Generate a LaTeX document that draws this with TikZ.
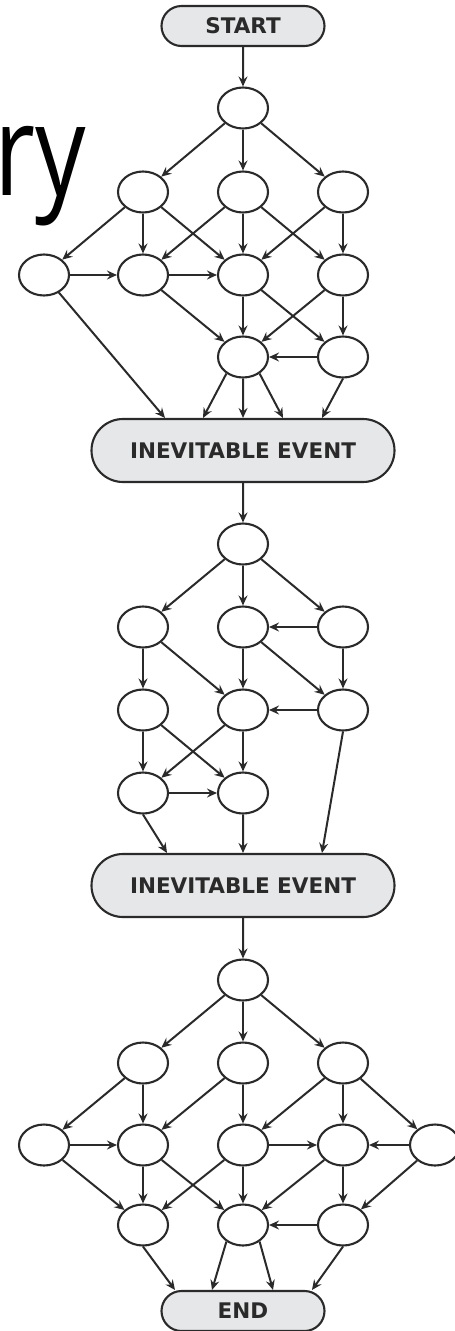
\documentclass[tikz,border=0pt]{standalone}
\usepackage{graphicx}
\usepackage{fontspec}
\setmainfont{DejaVu Sans}
\newfontfamily\headfont{Open Sans}
\usetikzlibrary{shapes.geometric, shapes.misc, arrows.meta}

\definecolor{ink}{HTML}{2A2A2A}
\definecolor{boxfill}{HTML}{E6E7E8}

\begin{document}
\begin{tikzpicture}[x=1pt, y=-1pt,
  state/.style={ellipse, draw=ink, line width=2.1pt, minimum width=50pt,
    minimum height=41pt, inner sep=0pt},
  event/.style={rounded rectangle, draw=ink, fill=boxfill, line width=2.1pt,
    font=\bfseries\fontsize{21.5}{21.5}\selectfont, text=ink, inner sep=0pt},
  flow/.style={draw=ink, line width=2pt,
    -{Stealth[length=10pt, width=9pt, inset=3.5pt]}}
]
\useasboundingbox (0,0) rectangle (455,1331);
\clip (0,0) rectangle (455,1331);

% heading fragment
\node[anchor=base west, inner sep=0pt, font=\headfont\fontsize{127}{127}\selectfont]
  (head) at (-6,195) {\scalebox{0.79}[1]{ry}};

% ---------- first stage ----------
\node[event, minimum width=163pt, minimum height=40pt] (S) at (243,26) {START};
\node[state] (a0) at (243,108) {};
\node[state] (a1) at (143,192) {};
\node[state] (a2) at (243,192) {};
\node[state] (a3) at (343,192) {};
\node[state] (b1) at (44,275) {};
\node[state] (b2) at (143,275) {};
\node[state] (b3) at (243,275) {};
\node[state] (b4) at (343,275) {};
\node[state] (c1) at (243,357) {};
\node[state] (c2) at (343,357) {};
\node[event, minimum width=303pt, minimum height=63pt] (E1) at (243,450.5) {INEVITABLE EVENT};

\draw[flow] (S) -- (a0);
\foreach \s/\t in {a0/a1, a0/a2, a0/a3,
                   a1/b1, a1/b2, a1/b3, a2/b2, a2/b3, a2/b4, a3/b3, a3/b4,
                   b1/b2, b2/b3, b2/c1, b3/c1, b3/c2, b4/c1, b4/c2, c2/c1}
  \draw[flow] (\s) -- (\t);
\draw[flow] (b1) -- ([xshift=-78pt]E1.north);
\draw[flow] (c1.225) -- ([xshift=-40pt]E1.north);
\draw[flow] (c1) -- (E1);
\draw[flow] (c1.-45) -- ([xshift=40pt]E1.north);
\draw[flow] (c2.south) -- ([xshift=79pt]E1.north);

% ---------- second stage ----------
\node[state] (d0) at (243,544) {};
\node[state] (d1) at (143,627) {};
\node[state] (d2) at (243,627) {};
\node[state] (d3) at (343,627) {};
\node[state] (e1) at (143,710) {};
\node[state] (e2) at (243,710) {};
\node[state] (e3) at (343,710) {};
\node[state] (f1) at (143,793) {};
\node[state] (f2) at (243,793) {};
\node[event, minimum width=303pt, minimum height=63pt] (E2) at (243,885.5) {INEVITABLE EVENT};

\draw[flow] (E1) -- (d0);
\foreach \s/\t in {d0/d1, d0/d2, d0/d3, d3/d2,
                   d1/e1, d1/e2, d2/e2, d2/e3, d3/e3, e3/e2,
                   e1/f1, e1/f2, e2/f1, e2/f2, f1/f2}
  \draw[flow] (\s) -- (\t);
\draw[flow] (f1.south) -- ([xshift=-76pt]E2.north);
\draw[flow] (f2) -- (E2);
\draw[flow] (e3.south) -- ([xshift=79pt]E2.north);

% ---------- third stage ----------
\node[state] (g0) at (243,980) {};
\node[state] (g1) at (143,1063) {};
\node[state] (g2) at (243,1063) {};
\node[state] (g3) at (343,1063) {};
\node[state] (h1) at (44,1145) {};
\node[state] (h2) at (143,1145) {};
\node[state] (h3) at (243,1145) {};
\node[state] (h4) at (343,1145) {};
\node[state] (h5) at (435,1145) {};
\node[state] (i1) at (143,1225) {};
\node[state] (i2) at (243,1225) {};
\node[state] (i3) at (343,1225) {};
\node[event, minimum width=163pt, minimum height=40pt] (END) at (243,1311) {END};

\draw[flow] (E2) -- (g0);
\foreach \s/\t in {g0/g1, g0/g2, g0/g3,
                   g1/h1, g1/h2, g2/h2, g2/h3, g3/h3, g3/h4, g3/h5,
                   h1/h2, h3/h4, h5/h4,
                   h1/i1, h2/i1, h2/i2, h3/i1, h3/i2, h4/i2, h4/i3, h5/i3,
                   i3/i2}
  \draw[flow] (\s) -- (\t);
\draw[flow] (i1.south) -- ([xshift=-68pt]END.north);
\draw[flow] (i2.225) -- ([xshift=-31pt]END.north);
\draw[flow] (i2.-45) -- ([xshift=30pt]END.north);
\draw[flow] (i3.south) -- ([xshift=69pt]END.north);
\end{tikzpicture}
\end{document}
